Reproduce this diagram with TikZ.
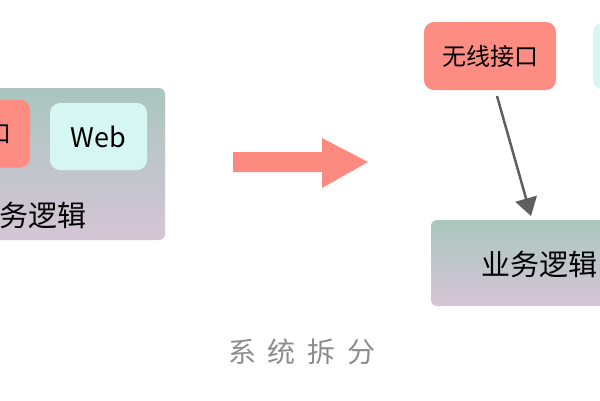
\documentclass[tikz,border=0pt]{standalone}
\usepackage{fontspec}
\setmainfont{Noto Sans CJK SC}
\newfontfamily\cjk{Noto Sans CJK SC}
\usetikzlibrary{arrows.meta,positioning}

\definecolor{boxred}{RGB}{253,140,131}
\definecolor{boxcyan}{RGB}{213,246,242}
\definecolor{bigarrow}{RGB}{252,138,128}
\definecolor{topteal}{RGB}{169,198,190}
\definecolor{botlilac}{RGB}{214,197,214}
\definecolor{capgray}{RGB}{140,140,140}
\definecolor{linkgray}{RGB}{95,95,95}

\tikzset{
  part/.style={rounded corners=10pt, inner sep=0pt, font=\cjk\fontsize{24}{24}\selectfont},
  redpart/.style={part, fill=boxred, minimum width=132, minimum height=68},
  cyanpart/.style={part, fill=boxcyan, minimum width=97, minimum height=67, font=\cjk\fontsize{27}{27}\selectfont},
  core/.style={rounded corners=6pt, inner sep=0pt, top color=topteal, bottom color=botlilac},
  coretext/.style={font=\cjk\fontsize{29}{29}\selectfont}
}
\newcommand{\capgap}{\hspace{12pt}}

\begin{document}
\begin{tikzpicture}[x=1pt,y=-1pt]
\useasboundingbox (0,0) rectangle (600,400);
\clip (0,0) rectangle (600,400);
% before: one block
\node[core, minimum width=185, minimum height=152] (oldcore) at (72.5,164) {};
\node[redpart] (oldwl) at (-36,133.5) {无线接口};
\node[cyanpart] (oldweb) at (98.5,136.5) {Web};
\node[coretext] (oldbiz) at (29,215) {业务逻辑};
% split arrow
\fill[bigarrow] (233,152) -- (322,152) -- (322,138) -- (368,162) -- (322,188) -- (322,172) -- (233,172) -- cycle;
% after: parts
\node[redpart] (wl) at (490,56) {无线接口};
\node[cyanpart, anchor=west] (web) at (593,56) {Web};
\node[core, minimum width=214, minimum height=86] (biz) at (538,263) {};
\node[coretext] (biztext) at (539,264) {业务逻辑};
\coordinate (from) at (497,96);
\coordinate (to) at (531,216);
\draw[linkgray, line width=2.5pt, -{Triangle[width=22pt,length=18pt]}] (from) -- (to);
% caption
\node[font=\cjk\fontsize{28}{28}\selectfont, text=capgray] (cap) at (302,352) {系\capgap 统\capgap 拆\capgap 分};
\end{tikzpicture}
\end{document}
